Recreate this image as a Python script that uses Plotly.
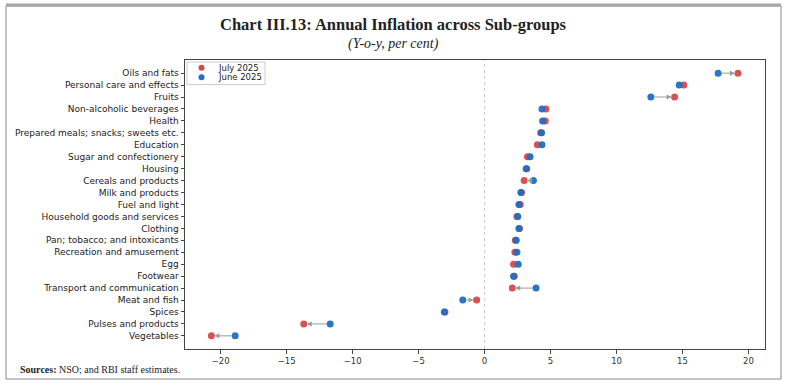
import plotly.graph_objects as go

categories = ["Oils and fats", "Personal care and effects", "Fruits", "Non-alcoholic beverages",
              "Health", "Prepared meals; snacks; sweets etc.", "Education", "Sugar and confectionery",
              "Housing", "Cereals and products", "Milk and products", "Fuel and light",
              "Household goods and services", "Clothing", "Pan; tobacco; and intoxicants",
              "Recreation and amusement", "Egg", "Footwear", "Transport and communication",
              "Meat and fish", "Spices", "Pulses and products", "Vegetables"]
july_2025 = [19.2, 15.1, 14.4, 4.65, 4.6, 4.25, 4.0, 3.25, 3.2, 3.0, 2.8, 2.7, 2.45, 2.65,
             2.33, 2.3, 2.2, 2.25, 2.1, -0.6, -3.0, -13.7, -20.7]
june_2025 = [17.7, 14.75, 12.6, 4.35, 4.4, 4.32, 4.35, 3.45, 3.15, 3.7, 2.75, 2.6, 2.52, 2.6,
             2.4, 2.45, 2.55, 2.2, 3.9, -1.65, -3.05, -11.7, -18.9]
series_names = ["July 2025", "June 2025"]
x_ticks = [-20, -15, -10, -5, 0, 5, 10, 15, 20]

RED = "#d9474b"
BLUE = "#1e6fc0"
colors = [RED, BLUE]

idx = list(range(len(categories)))

# layout pixel helpers
L, R, T, B = 185, 23, 60, 41
W, H = 788, 390
PW, PH = W - L - R, H - T - B


def px(xp):
    return (xp - L) / PW


def py(yp):
    return (H - B - yp) / PH


fig = go.Figure()
fig.add_trace(go.Scatter(x=july_2025, y=idx, mode="markers", name=series_names[0],
                         marker=dict(color=RED, size=7, opacity=0.95), showlegend=False))
fig.add_trace(go.Scatter(x=june_2025, y=idx, mode="markers", name=series_names[1],
                         marker=dict(color=BLUE, size=7, opacity=0.95), showlegend=False))

annotations = []
for i, (a, b) in enumerate(zip(june_2025, july_2025)):
    annotations.append(dict(x=b, y=i, ax=a, ay=i, xref="x", yref="y", axref="x", ayref="y",
                            text="", showarrow=True, arrowhead=2, arrowsize=1.0, arrowwidth=1.0,
                            arrowcolor="#9a9a9a", standoff=3, startstandoff=2))

# compact legend (matplotlib-like) on an overlay axis spanning the plot area
leg_rows = [67.7, 77.3]
fig.add_trace(go.Scatter(x=[px(201.5)] * 2, y=[py(r) for r in leg_rows], mode="markers",
                         marker=dict(color=colors, size=6), xaxis="x2", yaxis="y2",
                         showlegend=False, hoverinfo="skip"))
for name, r in zip(series_names, leg_rows):
    annotations.append(dict(x=px(216), y=py(r), xref="paper", yref="paper", showarrow=False,
                            text=name, xanchor="left", yanchor="middle",
                            font=dict(family="DejaVu Sans", size=8.5, color="#222")))

annotations += [
    dict(x=px(393), y=py(25), xref="paper", yref="paper", showarrow=False,
         text="<b>Chart III.13: Annual Inflation across Sub-groups</b>",
         font=dict(family="Liberation Serif", size=16.5, color="#222"), xanchor="center", yanchor="middle"),
    dict(x=px(393), y=py(44), xref="paper", yref="paper", showarrow=False,
         text="<i>(Y-o-y, per cent)</i>",
         font=dict(family="Liberation Serif", size=14, color="#222"), xanchor="center", yanchor="middle"),
    dict(x=px(18), y=py(369), xref="paper", yref="paper", showarrow=False,
         text="<b>Sources:</b> NSO; and RBI staff estimates.",
         font=dict(family="Liberation Serif", size=10, color="#222"), xanchor="left", yanchor="middle"),
]

shapes = [
    dict(type="line", xref="x", yref="paper", x0=0, x1=0, y0=0, y1=1,
         line=dict(color="#c8c8c8", width=1, dash="dot"), layer="below"),
    dict(type="rect", xref="paper", yref="paper", x0=px(187), x1=px(265), y0=py(84.5), y1=py(62),
         line=dict(color="#cccccc", width=1), fillcolor="white", layer="below"),
    dict(type="rect", xref="paper", yref="paper", x0=px(6), x1=px(781), y0=py(379), y1=py(6),
         line=dict(color="#8a8a8a", width=1)),
    dict(type="line", xref="paper", yref="paper", x0=px(6), x1=px(781), y0=py(5), y1=py(5),
         line=dict(color="#a8a8a8", width=3)),
]

fig.update_layout(
    width=W, height=H,
    margin=dict(l=L, r=R, t=T, b=B),
    paper_bgcolor="white", plot_bgcolor="white",
    showlegend=False,
    annotations=annotations,
    shapes=shapes,
    font=dict(family="DejaVu Sans", size=8, color="#222"),
    xaxis2=dict(overlaying="x", range=[0, 1], visible=False, fixedrange=True),
    yaxis2=dict(overlaying="y", range=[0, 1], visible=False, fixedrange=True),
)
fig.update_xaxes(selector=dict(anchor="y"))
fig.layout.xaxis.update(range=[-22.7, 21.25], tickvals=x_ticks, showgrid=False, zeroline=False,
                        showline=True, linecolor="#444", linewidth=1, mirror=True,
                        ticks="outside", ticklen=3.5, tickcolor="#444",
                        tickfont=dict(family="DejaVu Sans", size=8.5, color="#333"))
fig.layout.yaxis.update(range=[len(categories) - 1 + 1.1, -1.1], tickvals=idx, ticktext=categories,
                        showgrid=False, zeroline=False,
                        showline=True, linecolor="#444", linewidth=1, mirror=True,
                        ticks="outside", ticklen=3.5, tickcolor="#444",
                        tickfont=dict(family="DejaVu Sans", size=9, color="#222"))

fig.write_html("out.html", config={"displayModeBar": False},
               post_script="document.body.style.margin='0px';")
